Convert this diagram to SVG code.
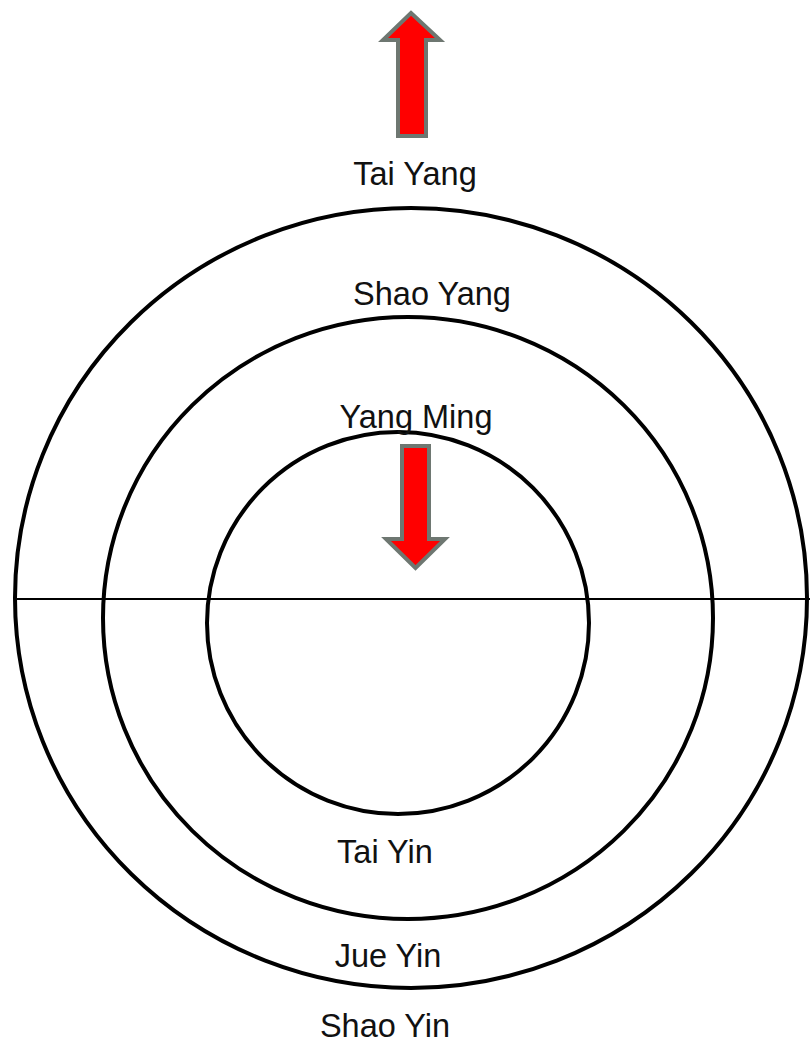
<svg xmlns="http://www.w3.org/2000/svg" width="810" height="1042" viewBox="0 0 810 1042">
<style>
.ring{fill:none;stroke:#000;stroke-width:4}
.lbl{font-family:"Liberation Sans",Arial,sans-serif;font-size:32.5px;fill:#111;text-anchor:middle}
.arrow{fill:#ff0000;stroke:#6e7771;stroke-width:4;stroke-linejoin:miter}
</style>
<rect width="810" height="1042" fill="#fff"/>
<g id="rings">
<ellipse id="outer" class="ring" cx="411" cy="598" rx="396" ry="390"/>
<ellipse id="middle" class="ring" cx="408" cy="618" rx="305" ry="301"/>
<ellipse id="inner" class="ring" cx="398" cy="623" rx="191" ry="191"/>
</g>
<g id="connectors">
<line x1="15" y1="599" x2="810" y2="599" stroke="#000" stroke-width="2"/>
<path id="arrow-up" class="arrow" d="M411,13 L440,40 L426,40 L426,136 L398,136 L398,40 L383,40 Z"/>
<path id="arrow-down" class="arrow" d="M402,446 L429,446 L429,539 L445,539 L415.5,568 L386,539 L402,539 Z"/>
</g>
<g id="labels">
<text class="lbl" x="415" y="185">Tai Yang</text>
<text class="lbl" x="432" y="305">Shao Yang</text>
<text class="lbl" x="416" y="428">Yang Ming</text>
<text class="lbl" x="385" y="863">Tai Yin</text>
<text class="lbl" x="388" y="967">Jue Yin</text>
<text class="lbl" x="385" y="1037">Shao Yin</text>
</g>
</svg>
